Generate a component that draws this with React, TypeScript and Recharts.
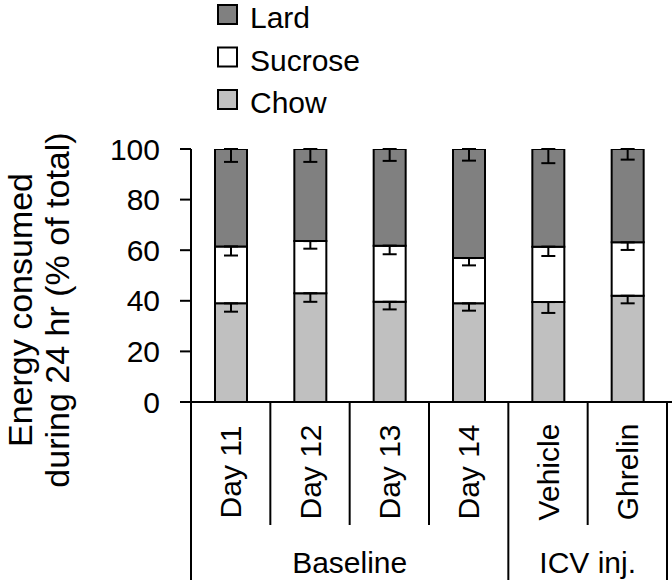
import React from 'react';
import { BarChart, Bar, XAxis, YAxis, ErrorBar } from 'recharts';

const categories = ['Day 11', 'Day 12', 'Day 13', 'Day 14', 'Vehicle', 'Ghrelin'];
const chow = [39.0, 43.0, 39.6, 39.0, 39.5, 42.0];
const sucrose = [22.5, 20.6, 22.2, 17.9, 21.9, 21.1];
const lard = [38.5, 36.4, 38.2, 43.1, 38.6, 36.9];
const chowErr = [3.3, 3.4, 3.0, 2.9, 4.3, 3.0];
const sucroseErr = [3.6, 3.0, 3.4, 2.9, 3.7, 3.0];
const lardErr = [5.1, 5.1, 4.7, 4.6, 5.6, 4.2];
const groups = [
  { label: 'Baseline', span: 4 },
  { label: 'ICV inj.', span: 2 },
];
const yTicks = [0, 20, 40, 60, 80, 100];
const legendItems = [
  { name: 'Lard', color: '#808080' },
  { name: 'Sucrose', color: '#ffffff' },
  { name: 'Chow', color: '#c0c0c0' },
];
const yLabelLines = ['Energy consumed', 'during 24 hr (% of total)'];

const data = categories.map((c, i) => ({
  name: c,
  chow: chow[i],
  sucrose: sucrose[i],
  lard: lard[i],
  chowErr: [chowErr[i], 0],
  sucroseErr: [sucroseErr[i], 0],
  lardErr: [lardErr[i], 0],
}));

const FONT = '"Liberation Sans", Arial, sans-serif';
const FS = 30;
const FS_LABEL = 34;
const W = 672;
const H = 584;
const M = { top: 149, right: 5, bottom: 0, left: 0 };
const Y_W = 191;
const X_H = 182;
const PLOT_W = W - M.left - M.right - Y_W;

const XTick = (props: any) => {
  const { x, y, payload } = props;
  const idx = categories.indexOf(payload.value);
  const half = payload && payload.offset ? payload.offset : PLOT_W / categories.length / 2;
  const left = x - half;
  let acc = 0;
  let isStart = false;
  let span = 0;
  let gLabel = '';
  groups.forEach((g) => {
    if (idx === acc) {
      isStart = true;
      span = g.span;
      gLabel = g.label;
    }
    acc += g.span;
  });
  const isLast = idx === categories.length - 1;
  return (
    <g>
      <line x1={left} y1={y} x2={left} y2={isStart ? y + 178 : y + 123} stroke="#000" strokeWidth={2} />
      {isLast && <line x1={x + half} y1={y} x2={x + half} y2={y + 178} stroke="#000" strokeWidth={2} />}
      {isLast && <line x1={x + half} y1={y} x2={x + half + 6} y2={y} stroke="#000" strokeWidth={2} />}
      <text
        transform={`translate(${x},${y + 70}) rotate(-90)`}
        textAnchor="middle"
        dominantBaseline="central"
        fontSize={FS}
        fontFamily={FONT}
        fill="#000"
      >
        {payload.value}
      </text>
      {isStart && (
        <text x={left + span * half} y={y + 171} textAnchor="middle" fontSize={FS} fontFamily={FONT} fill="#000">
          {gLabel}
        </text>
      )}
    </g>
  );
};

export default function App() {
  return (
    <div style={{ position: 'absolute', left: 0, top: 0 }}>
      <BarChart width={W} height={H} data={data} margin={M} barSize={32}>
        <XAxis
          dataKey="name"
          height={X_H}
          interval={0}
          tick={<XTick />}
          tickLine={false}
          tickSize={0}
          tickMargin={0}
          axisLine={{ stroke: '#000', strokeWidth: 2 }}
        />
        <YAxis
          type="number"
          domain={[0, 100]}
          ticks={yTicks}
          allowDataOverflow
          width={Y_W}
          tickSize={11}
          tickMargin={20}
          tick={{ fontSize: FS, fontFamily: FONT, fill: '#000' }}
          tickLine={{ stroke: '#000', strokeWidth: 2 }}
          axisLine={{ stroke: '#000', strokeWidth: 2 }}
        />
        <Bar dataKey="chow" stackId="a" fill="#c0c0c0" stroke="#000" strokeWidth={2} isAnimationActive={false}>
          <ErrorBar dataKey="chowErr" width={7} strokeWidth={2} stroke="#000" direction="y" />
        </Bar>
        <Bar dataKey="sucrose" stackId="a" fill="#ffffff" stroke="#000" strokeWidth={2} isAnimationActive={false}>
          <ErrorBar dataKey="sucroseErr" width={7} strokeWidth={2} stroke="#000" direction="y" />
        </Bar>
        <Bar dataKey="lard" stackId="a" fill="#808080" stroke="#000" strokeWidth={2} isAnimationActive={false}>
          <ErrorBar dataKey="lardErr" width={7} strokeWidth={2} stroke="#000" direction="y" />
        </Bar>
        <g>
          {legendItems.map((it, i) => (
            <g key={it.name}>
              <rect x={218} y={5 + i * 42.5} width={19} height={19} fill={it.color} stroke="#000" strokeWidth={2} />
              <text x={250} y={28 + i * 42.5} fontSize={30} fontFamily={FONT} fill="#000">
                {it.name}
              </text>
            </g>
          ))}
        </g>
        <text transform="translate(0,310) rotate(-90)" textAnchor="middle" fontSize={FS_LABEL} fontFamily={FONT} fill="#000">
          <tspan x={0} y={32}>{yLabelLines[0]}</tspan>
          <tspan x={0} y={69}>{yLabelLines[1]}</tspan>
        </text>
      </BarChart>
    </div>
  );
}
